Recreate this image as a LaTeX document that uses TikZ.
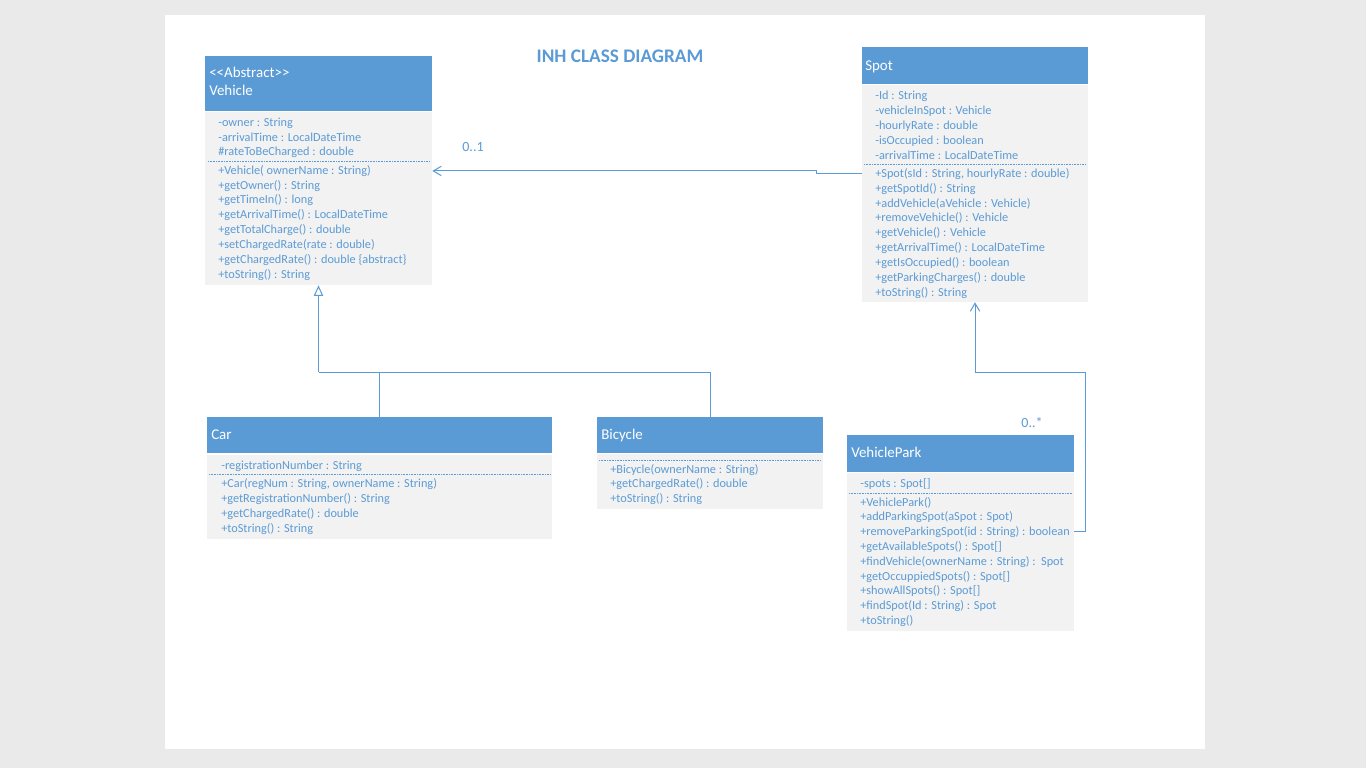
\documentclass[tikz,border=0pt]{standalone}
\usepackage{fontspec}
\setmainfont{Carlito}
\usetikzlibrary{arrows.meta,fit}
\definecolor{hdr}{HTML}{5B9BD5}
\definecolor{bodyfill}{HTML}{F2F2F2}
\definecolor{txt}{HTML}{5B9BD5}
\definecolor{linec}{HTML}{5B9BD5}
\definecolor{bg}{HTML}{EAEAEA}
\begin{document}
\begin{tikzpicture}[x=0.75pt,y=-0.75pt,
  hdrbox/.style={fill=hdr, draw=none, inner sep=0pt},
  bodybox/.style={fill=bodyfill, draw=none, inner sep=0pt},
  clsname/.style={anchor=west, text=white, inner sep=0pt, yshift=-1.2pt, font=\fontsize{11.2}{13}\selectfont, text height=0.7em, text depth=0.2em},
  member/.style={anchor=west, text=txt, inner sep=0pt, yshift=-0.7pt, font=\fontsize{9.2}{11}\selectfont, text height=0.7em, text depth=0.2em},
  sepline/.style={draw=txt, line width=0.5pt, dash pattern=on 0.6pt off 0.6pt},
  conn/.style={draw=linec, line width=0.75pt},
  mult/.style={text=txt, inner sep=0pt, font=\fontsize{10.5}{12}\selectfont},
]
% background and page
\node[fit={(0,0) (1366,768)}, fill=bg, inner sep=0pt] (bgpage) {};
\node[fit={(165,15) (1205,749)}, fill=white, inner sep=0pt] (page) {};
\node[text=txt, font=\bfseries\fontsize{14.4}{16}\selectfont, inner sep=0pt] (title) at (620,56) {INH CLASS DIAGRAM};

% ---------- Vehicle ----------
\node[hdrbox, fit={(205,56) (432,111)}] (vh) {};
\node[bodybox, fit={(205,112) (432,285)}] (vb) {};
\node[clsname] (vt1) at (209,73) {<\kern0pt<Abstract>\kern0pt>};
\node[clsname] (vt2) at (209,91) {Vehicle};
\node[member] (va1) at (218,122) {-owner : String};
\node[member] (va2) at (218,137) {-arrivalTime : LocalDateTime};
\node[member] (va3) at (218,151) {\#rateToBeCharged : double};
\draw[sepline] (208,161) -- (429,161);
\node[member] (vm1) at (218,170) {+Vehicle( ownerName : String)};
\node[member] (vm2) at (218,185) {+getOwner() : String};
\node[member] (vm3) at (218,199) {+getTimeIn() : long};
\node[member] (vm4) at (218,214) {+getArrivalTime() : LocalDateTime};
\node[member] (vm5) at (218,229) {+getTotalCharge() : double};
\node[member] (vm6) at (218,244) {+setChargedRate(rate : double)};
\node[member] (vm7) at (218,259) {+getChargedRate() : double \{abstract\}};
\node[member] (vm8) at (218,274) {+toString() : String};

% ---------- Spot ----------
\node[hdrbox, fit={(862,47) (1088,84)}] (sh) {};
\node[bodybox, fit={(862,85) (1088,302)}] (sb) {};
\node[clsname] (st) at (865,66) {Spot};
\node[member] (sa1) at (875,95) {-Id : String};
\node[member] (sa2) at (875,110) {-vehicleInSpot : Vehicle};
\node[member] (sa3) at (875,125) {-hourlyRate : double};
\node[member] (sa4) at (875,140) {-isOccupied : boolean};
\node[member] (sa5) at (875,155) {-arrivalTime : LocalDateTime};
\draw[sepline] (864,164) -- (1086,164);
\node[member] (sm1) at (875,173) {+Spot(sId : String, hourlyRate : double)};
\node[member] (sm2) at (875,188) {+getSpotId() : String};
\node[member] (sm3) at (875,203) {+addVehicle(aVehicle : Vehicle)};
\node[member] (sm4) at (875,217) {+removeVehicle() : Vehicle};
\node[member] (sm5) at (875,232) {+getVehicle() : Vehicle};
\node[member] (sm6) at (875,247) {+getArrivalTime() : LocalDateTime};
\node[member] (sm7) at (875,262) {+getIsOccupied() : boolean};
\node[member] (sm8) at (875,277) {+getParkingCharges() : double};
\node[member] (sm9) at (875,292) {+toString() : String};

% ---------- Car ----------
\node[hdrbox, fit={(207,417) (552,453)}] (ch) {};
\node[bodybox, fit={(207,455) (552,539)}] (cb) {};
\node[clsname] (ct) at (211,435) {Car};
\node[member] (ca1) at (221,465) {-registrationNumber : String};
\draw[sepline] (209,474) -- (550,474);
\node[member] (cm1) at (221,483) {+Car(regNum : String, ownerName : String)};
\node[member] (cm2) at (221,498) {+getRegistrationNumber() : String};
\node[member] (cm3) at (221,513) {+getChargedRate() : double};
\node[member] (cm4) at (221,528) {+toString() : String};

% ---------- Bicycle ----------
\node[hdrbox, fit={(597,417) (823,453)}] (bh) {};
\node[bodybox, fit={(597,454) (823,509)}] (bb) {};
\node[clsname] (bt) at (601,435) {Bicycle};
\draw[sepline] (599,460) -- (821,460);
\node[member] (bm1) at (610,469) {+Bicycle(ownerName : String)};
\node[member] (bm2) at (610,483) {+getChargedRate() : double};
\node[member] (bm3) at (610,498) {+toString() : String};

% ---------- VehiclePark ----------
\node[hdrbox, fit={(847,435) (1074,472)}] (ph) {};
\node[bodybox, fit={(847,473) (1074,631)}] (pb) {};
\node[clsname] (pt) at (851,453) {VehiclePark};
\node[member] (pa1) at (860,483) {-spots : Spot[]};
\draw[sepline] (849,493) -- (1072,493);
\node[member] (pm1) at (860,502) {+VehiclePark()};
\node[member] (pm2) at (860,516) {+addParkingSpot(aSpot : Spot)};
\node[member] (pm3) at (860,531) {+removeParkingSpot(id : String) : boolean};
\node[member] (pm4) at (860,546) {+getAvailableSpots() : Spot[]};
\node[member] (pm5) at (860,561) {+findVehicle(ownerName : String) :\ \ Spot};
\node[member] (pm6) at (860,576) {+getOccuppiedSpots() : Spot[]};
\node[member] (pm7) at (860,590) {+showAllSpots() : Spot[]};
\node[member] (pm8) at (860,605) {+findSpot(Id : String) : Spot};
\node[member] (pm9) at (860,620) {+toString()};

% ---------- connectors ----------
% Spot -> Vehicle association
\draw[conn, -{Straight Barb[length=6pt,width=7pt]}] (sm1 -| sb.west) -- ++(-45,0) |- (vm1 -| vb.east);
\node[mult] (m01) at (473,147) {0..1};

% inheritance
\coordinate (j) at (318.5,372);
\draw[conn] (ch.north) |- (j);
\draw[conn] (bh.north) |- (j);
\draw[conn, -{Triangle[open, length=8pt, width=7pt]}] (j) -- (vb.south);

% VehiclePark -> Spot
\coordinate (k) at (975,372);
\draw[conn, -{Straight Barb[length=6pt,width=7pt]}] (pm3 -| pb.east) -- ++(11,0) |- (k) -- (sb.south);
\node[mult] (m0s) at (1032,423) {0..*};
\end{tikzpicture}
\end{document}
